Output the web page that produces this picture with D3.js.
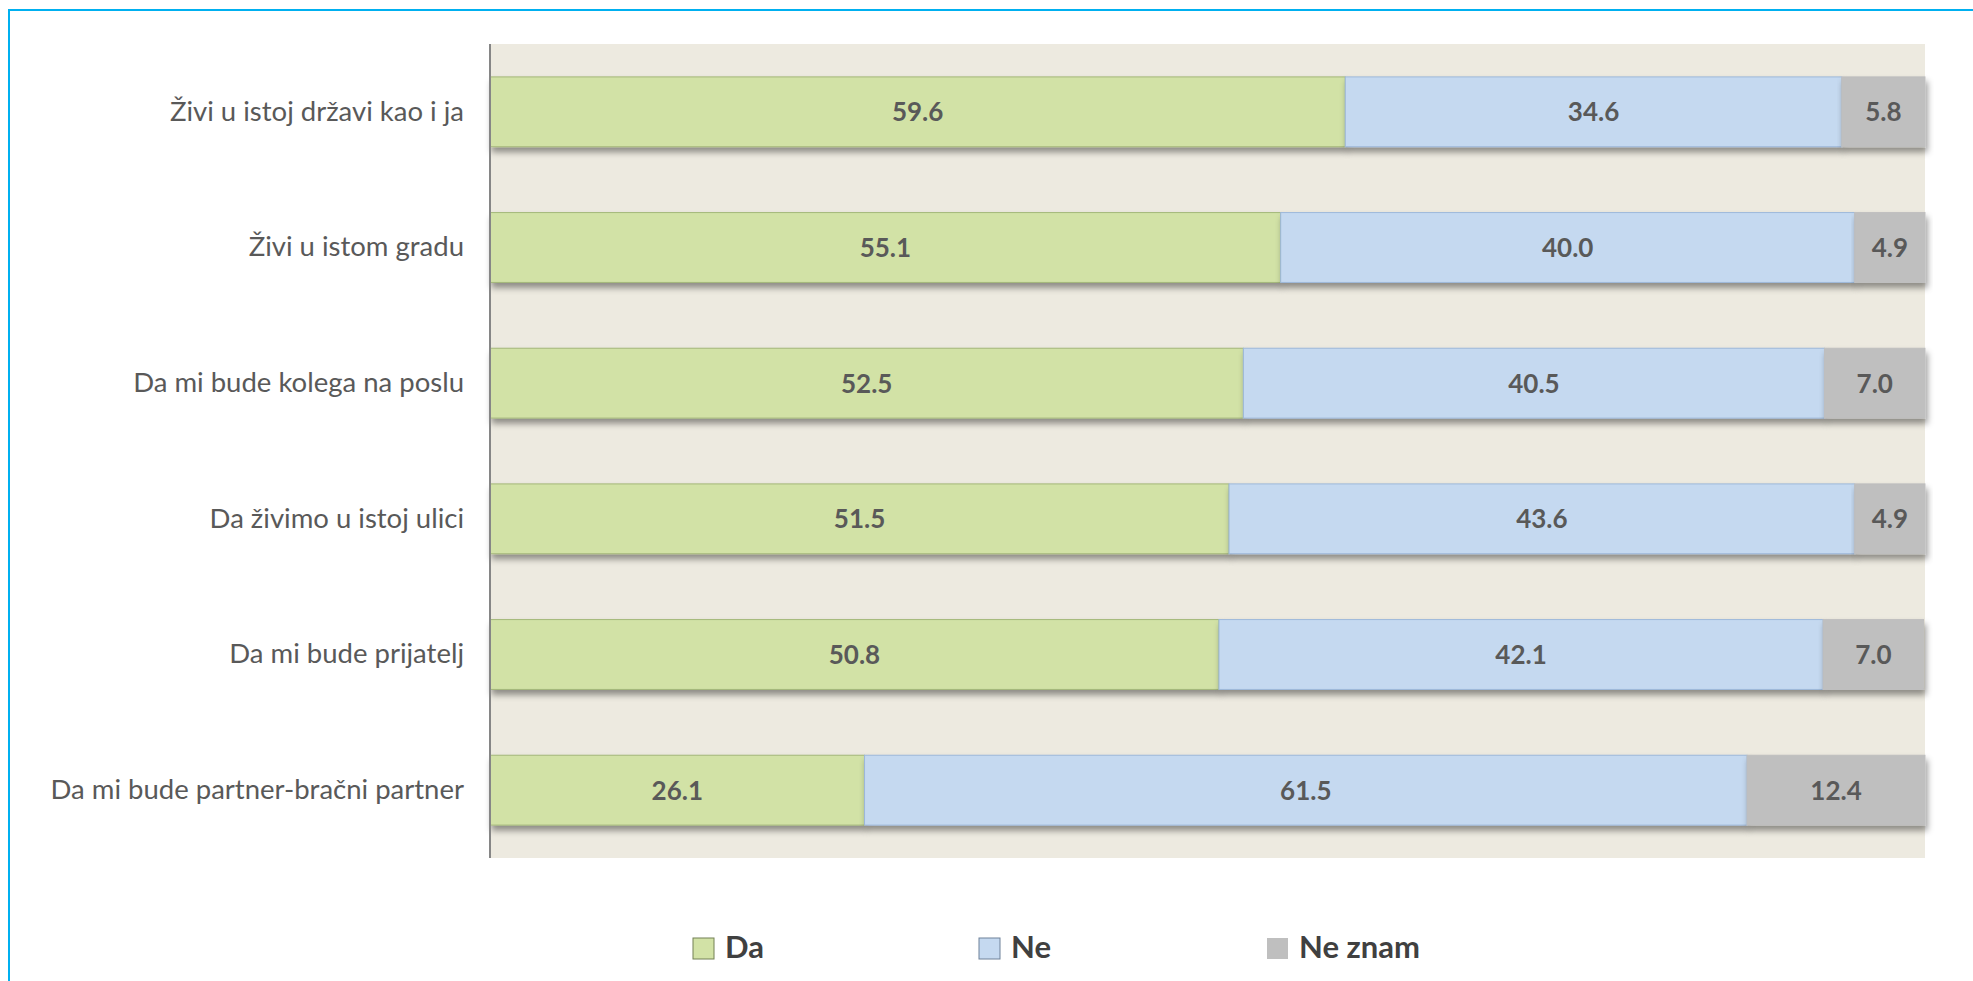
<!DOCTYPE html>
<html>
<head>
<meta charset="utf-8">
<script src="https://cdn.jsdelivr.net/npm/d3@7"></script>
<style>
  body { margin: 0; background: #fff; }
  svg { display: block; }
</style>
</head>
<body>
<script>
// data
var categories = [
  'Živi u istoj državi kao i ja',
  'Živi u istom gradu',
  'Da mi bude kolega na poslu',
  'Da živimo u istoj ulici',
  'Da mi bude prijatelj',
  'Da mi bude partner-bračni partner'
]
var da = [59.6, 55.1, 52.5, 51.5, 50.8, 26.1]
var ne = [34.6, 40.0, 40.5, 43.6, 42.1, 61.5]
var neZnam = [5.8, 4.9, 7.0, 4.9, 7.0, 12.4]

var seriesNames = ['Da', 'Ne', 'Ne znam']
var colors = ['#d2e2a6', '#c5d9f0', '#bfbfbf']
var strokes = ['#a4b77a', '#9db8da', '#bfbfbf']

var W = 1973, H = 981
var margin = { top: 44, right: 48, bottom: 123, left: 490 }

var rows = categories.map(function (c, i) {
  return { cat: c, 'Da': da[i], 'Ne': ne[i], 'Ne znam': neZnam[i] }
})

var svg = d3.select('body').append('svg')
  .attr('width', W)
  .attr('height', H)

var defs = svg.append('defs')
var f = defs.append('filter').attr('id', 'shadow')
  .attr('x', '-5%').attr('y', '-20%').attr('width', '115%').attr('height', '160%')
f.append('feDropShadow')
  .attr('dx', 2).attr('dy', 5)
  .attr('stdDeviation', 3)
  .attr('flood-color', '#000')
  .attr('flood-opacity', 0.4)

// blue frame (only left and top edges visible)
svg.append('rect')
  .attr('x', 9).attr('y', 10)
  .attr('width', W + 20).attr('height', H + 20)
  .attr('fill', 'none')
  .attr('stroke', '#00b0f0')
  .attr('stroke-width', 2)

var x = d3.scaleLinear()
  .domain([0, 100])
  .range([margin.left, W - margin.right])

var y = d3.scaleBand()
  .domain(categories)
  .range([margin.top, H - margin.bottom])
  .paddingInner(0.485)
  .paddingOuter(0.2425)

// plot background
svg.append('rect')
  .attr('x', x(0))
  .attr('y', margin.top)
  .attr('width', x(100) - x(0))
  .attr('height', H - margin.bottom - margin.top)
  .attr('fill', '#edeae0')

var stack = d3.stack().keys(seriesNames)(rows)

var layer = svg.selectAll('g.layer')
  .data(stack)
  .enter().append('g')
  .attr('class', 'layer')

layer.selectAll('rect')
  .data(function (d, i) { return d.map(function (p) { return { p: p, i: i } }) })
  .enter().append('rect')
  .attr('x', function (d) { return x(d.p[0]) })
  .attr('y', function (d) { return y(d.p.data.cat) })
  .attr('width', function (d) { return x(d.p[1]) - x(d.p[0]) })
  .attr('height', y.bandwidth())
  .attr('fill', function (d) { return colors[d.i] })
  .attr('stroke', function (d) { return strokes[d.i] })
  .attr('stroke-width', 1)
  .attr('filter', 'url(#shadow)')

// value labels
layer.selectAll('text')
  .data(function (d) { return d })
  .enter().append('text')
  .attr('x', function (d) { return (x(d[0]) + x(d[1])) / 2 })
  .attr('y', function (d) { return y(d.data.cat) + y.bandwidth() / 2 })
  .attr('dy', '0.36em')
  .attr('text-anchor', 'middle')
  .style('font-family', 'Lato, sans-serif')
  .style('font-weight', 'bold')
  .style('font-size', '26px')
  .attr('fill', '#595959')
  .text(function (d) { return d3.format('.1f')(d[1] - d[0]) })

// y axis
var yAxis = svg.append('g')
  .attr('transform', 'translate(' + x(0) + ',0)')
  .call(d3.axisLeft(y).tickSize(0).tickPadding(26))
yAxis.select('.domain')
  .attr('stroke', '#868686')
  .attr('stroke-width', 2)
  .attr('d', 'M0,' + margin.top + 'V' + (H - margin.bottom))
yAxis.selectAll('text')
  .style('font-family', 'Lato, sans-serif')
  .style('font-size', '27.5px')
  .attr('fill', '#595959')

// legend
var legendX = [693, 979, 1267]
var legend = svg.append('g')
  .selectAll('g')
  .data(seriesNames)
  .enter().append('g')
  .attr('transform', function (d, i) { return 'translate(' + legendX[i] + ',938)' })
legend.append('rect')
  .attr('width', 21)
  .attr('height', 21)
  .attr('fill', function (d, i) { return colors[i] })
  .attr('stroke', function (d, i) { return i === 2 ? 'none' : d3.color(strokes[i]).darker(1) })
legend.append('text')
  .attr('x', 32)
  .attr('y', 20)
  .style('font-family', 'Lato, sans-serif')
  .style('font-weight', 'bold')
  .style('font-size', '31px')
  .attr('fill', '#404040')
  .text(function (d) { return d })
</script>
</body>
</html>
